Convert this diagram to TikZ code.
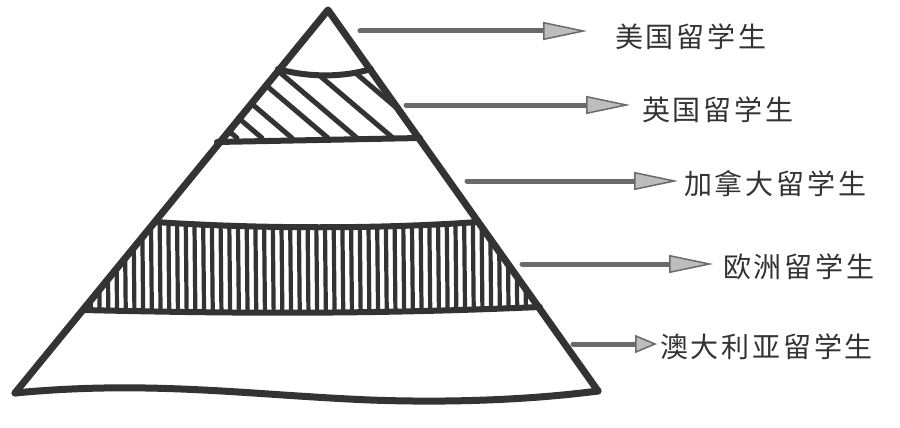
\documentclass[tikz,border=0pt]{standalone}
\usepackage{fontspec}
\newfontfamily\cjk[LetterSpace=10]{Noto Sans CJK SC}
\usetikzlibrary{arrows.meta}
\definecolor{ink}{HTML}{333333}
\definecolor{shaft}{HTML}{6A6A6A}
\definecolor{headfill}{HTML}{BDBDBD}
\begin{document}
\begin{tikzpicture}[x=1pt,y=-1pt,line cap=round,line join=round,
	pen/.style={draw=ink,line width=7pt},
	hatch/.style={draw=ink,line width=5pt},
	tag/.style={font=\cjk\fontsize{28}{28}\selectfont,text=ink,inner sep=0pt,anchor=west},
	sketch arrow/.style={draw=shaft,line width=5pt,
		-{Triangle[length=#1,width=18pt,fill=headfill,color=shaft,line width=1.5pt]}},
	sketch arrow/.default=44pt]
		\useasboundingbox (0,0) rectangle (900,428);

		% corners of the pyramid
		\coordinate (top) at (328,10);
		\coordinate (bl) at (15,393);
		\coordinate (br) at (598,391);

		% diagonal hatching, second band
		\begin{scope}
			\clip (278,69) .. controls (310,78) and (345,77) .. (371,69)
				-- (420,139) -- (217,142) -- cycle;
			\foreach \x in {237,262,292,328,357,393,432}
				\draw[hatch] (\x,138) -- ++(-100,-85);
		\end{scope}

		% vertical hatching, fourth band
		\begin{scope}
			\clip (155,222) .. controls (260,229) and (380,229) .. (478,222)
				-- (540,307) .. controls (380,314) and (250,314) .. (83,310) -- cycle;
			\foreach \x in {90,98.7,...,540}
				\draw[hatch,line width=4.2pt] (\x,215) -- (\x+1,318);
		\end{scope}

		% outline and band lines
		\draw[pen] (bl) -- (top) -- (br);
		\draw[pen] (bl) .. controls (150,380) and (250,395) .. (370,400)
			.. controls (480,404) and (560,396) .. (br);
		\draw[pen,line width=6pt] (278,69) .. controls (310,78) and (345,77) .. (371,69);
		\draw[pen,line width=6pt] (217,142) -- (420,138);
		\draw[pen,line width=6pt] (155,222) .. controls (260,229) and (380,229) .. (478,222);
		\draw[pen,line width=6pt] (83,310) .. controls (250,314) and (380,314) .. (540,307);

		% labels
		\node[tag] (us) at (615,37) {美国留学生};
		\node[tag] (uk) at (642,110) {英国留学生};
		\node[tag] (ca) at (684,184) {加拿大留学生};
		\node[tag] (eu) at (723,267) {欧洲留学生};
		\node[tag] (au) at (660,347) {澳大利亚留学生};

		% arrows
		\coordinate (s1) at (360,31);
		\coordinate (s2) at (406,105);
		\coordinate (s3) at (467,181);
		\coordinate (s4) at (522,264);
		\coordinate (s5) at (573,344);
		\draw[sketch arrow,shorten >=28pt] (s1) -- (us.west|-s1);
		\draw[sketch arrow,shorten >=12pt] (s2) -- (uk.west|-s2);
		\draw[sketch arrow,shorten >=6pt] (s3) -- (ca.west|-s3);
		\draw[sketch arrow,shorten >=10pt] (s4) -- (eu.west|-s4);
		\draw[sketch arrow=22pt,shorten >=3pt] (s5) -- (au.west|-s5);
	\end{tikzpicture}
\end{document}
